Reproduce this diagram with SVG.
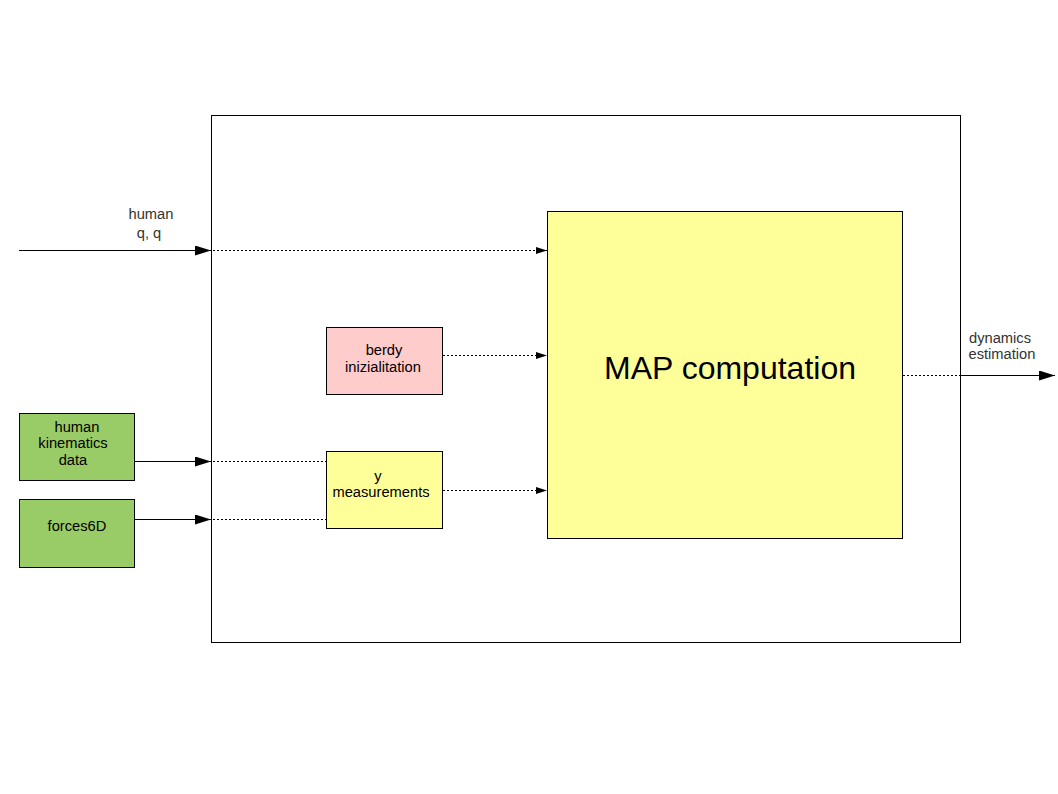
<svg xmlns="http://www.w3.org/2000/svg" width="1058" height="794" viewBox="0 0 1058 794">
<defs>
<style>
.box{stroke:#000;stroke-width:1}
.t{font-family:"Liberation Sans",Arial,sans-serif;font-size:14.7px;fill:#000;text-anchor:middle}
.lbl{font-family:"Liberation Sans",Arial,sans-serif;font-size:14.7px;fill:#333;text-anchor:middle}
.solid{stroke:#000;stroke-width:1.2;fill:none}
.dot{stroke:#000;stroke-width:1;stroke-dasharray:2,2;fill:none}
</style>
<marker id="big" markerWidth="16" markerHeight="10" refX="16" refY="5" orient="auto" markerUnits="userSpaceOnUse"><path d="M0,0 L16,5 L0,10 Z" fill="#000"/></marker>
<marker id="small" markerWidth="11" markerHeight="7" refX="11" refY="3.5" orient="auto" markerUnits="userSpaceOnUse"><path d="M0,0 L11,3.5 L0,7 Z" fill="#000"/></marker>
</defs>
<rect width="1058" height="794" fill="#fff"/>
<g id="container"><rect x="211.5" y="115.5" width="749" height="527" fill="none" class="box"/></g>
<g id="map"><rect x="547.5" y="211.5" width="355" height="327" fill="#ffff99" class="box"/><text x="730" y="379" class="t" style="font-size:32px">MAP computation</text></g>
<g id="berdy"><rect x="326.5" y="327.5" width="116" height="67" fill="#ffcccc" class="box"/><text x="384" y="355" class="t">berdy</text><text x="383" y="372" class="t">inizialitation</text></g>
<g id="ymeas"><rect x="326.5" y="451.5" width="116" height="77" fill="#ffff99" class="box"/><text x="378" y="481" class="t">y</text><text x="381" y="497" class="t">measurements</text></g>
<g id="kin"><rect x="19.5" y="413.5" width="115" height="67" fill="#99cc66" class="box"/><text x="77" y="432" class="t">human</text><text x="73" y="448" class="t">kinematics</text><text x="73" y="465" class="t">data</text></g>
<g id="forces"><rect x="19.5" y="499.5" width="115" height="68" fill="#99cc66" class="box"/><text x="77" y="531" class="t">forces6D</text></g>
<g id="labels">
<text x="151" y="219" class="lbl">human</text><text x="149" y="238" class="lbl">q, q</text>
<text x="1000" y="343" class="lbl">dynamics</text><text x="1002" y="359" class="lbl">estimation</text>
</g>
<g id="connectors">
<line x1="19" y1="250.5" x2="211" y2="250.5" class="solid" marker-end="url(#big)"/>
<line x1="213" y1="250.5" x2="547" y2="250.5" class="dot" marker-end="url(#small)"/>
<line x1="443" y1="355.5" x2="547" y2="355.5" class="dot" marker-end="url(#small)"/>
<line x1="135" y1="461.5" x2="211" y2="461.5" class="solid" marker-end="url(#big)"/>
<line x1="213" y1="461.5" x2="326" y2="461.5" class="dot"/>
<line x1="135" y1="519.5" x2="211" y2="519.5" class="solid" marker-end="url(#big)"/>
<line x1="213" y1="519.5" x2="326" y2="519.5" class="dot"/>
<line x1="443" y1="490.5" x2="547" y2="490.5" class="dot" marker-end="url(#small)"/>
<line x1="903" y1="375.5" x2="960" y2="375.5" class="dot"/>
<line x1="960" y1="375.5" x2="1055" y2="375.5" class="solid" marker-end="url(#big)"/>
</g>
</svg>
